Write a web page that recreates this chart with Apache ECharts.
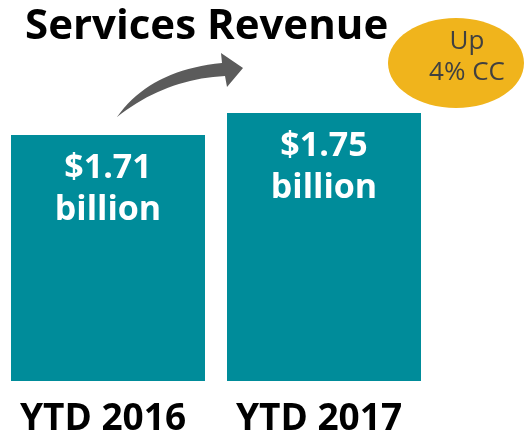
<!DOCTYPE html>
<html>
<head>
<meta charset="utf-8">
<script src="https://cdn.jsdelivr.net/npm/echarts@6/dist/echarts.min.js"></script>
<style>
  html, body { margin: 0; padding: 0; background: #fff; }
  #chart { width: 530px; height: 433px; }
</style>
</head>
<body>
<div id="chart"></div>
<script>
// data
const categories = ['YTD 2016', 'YTD 2017']
const revenue = [1.71, 1.75]
const revenueLabels = ['$1.71\nbillion', '$1.75\nbillion']

const chart = echarts.init(document.getElementById('chart'))

// curved arrow outline: quadratic curves sampled into a polygon
function quad(p0, c, p1, n) {
  const pts = []
  for (let i = 0; i <= n; i++) {
    const t = i / n
    const a = (1 - t) * (1 - t), b = 2 * (1 - t) * t, d = t * t
    pts.push([a * p0[0] + b * c[0] + d * p1[0], a * p0[1] + b * c[1] + d * p1[1]])
  }
  return pts
}
const arrowPts = [].concat(
  quad([117, 117], [150, 70], [222, 63], 20),
  [[221, 53], [243, 68], [227, 87]],
  quad([225, 76], [165, 79], [117, 117], 20)
)

const option = {
  animation: false,
  title: {
    text: 'Services Revenue',
    left: 20,
    top: 1,
    textStyle: {
      fontFamily: 'Open Sans',
      fontWeight: 'bold',
      fontSize: 42,
      color: '#000'
    }
  },
  grid: {
    left: 0,
    width: 432,
    top: 85.5,
    bottom: 52,
    outerBoundsMode: 'none'
  },
  xAxis: {
    type: 'category',
    data: categories,
    axisLine: { show: false },
    axisTick: { show: false },
    axisLabel: {
      interval: 0,
      hideOverlap: false,
      margin: 20,
      fontFamily: 'Open Sans',
      fontWeight: 'bold',
      fontSize: 37,
      color: '#000',
      padding: [0, 10, 0, 0]
    }
  },
  yAxis: {
    type: 'value',
    min: 1.263,
    max: 1.8,
    show: false,
    splitLine: { show: false }
  },
  series: [{
    type: 'bar',
    barWidth: 194,
    itemStyle: { color: '#008C9A' },
    label: {
      show: true,
      position: 'insideTop',
      distance: 12,
      fontFamily: 'Open Sans',
      fontWeight: 'bold',
      fontSize: 34,
      lineHeight: 42,
      color: '#fff',
      formatter: p => revenueLabels[p.dataIndex]
    },
    data: revenue
  }],
  graphic: [
    {
      type: 'polygon',
      shape: { points: arrowPts },
      style: { fill: '#5B5B5B' }
    },
    {
      type: 'ellipse',
      shape: { cx: 456, cy: 63, rx: 68, ry: 45 },
      style: { fill: '#F0B41C' }
    },
    {
      type: 'text',
      x: 467,
      y: 57,
      style: {
        text: 'Up\n4% CC',
        align: 'center',
        verticalAlign: 'middle',
        font: '26px "Open Sans"',
        lineHeight: 31,
        fill: '#404040'
      }
    }
  ]
}

chart.setOption(option)
</script>
</body>
</html>
